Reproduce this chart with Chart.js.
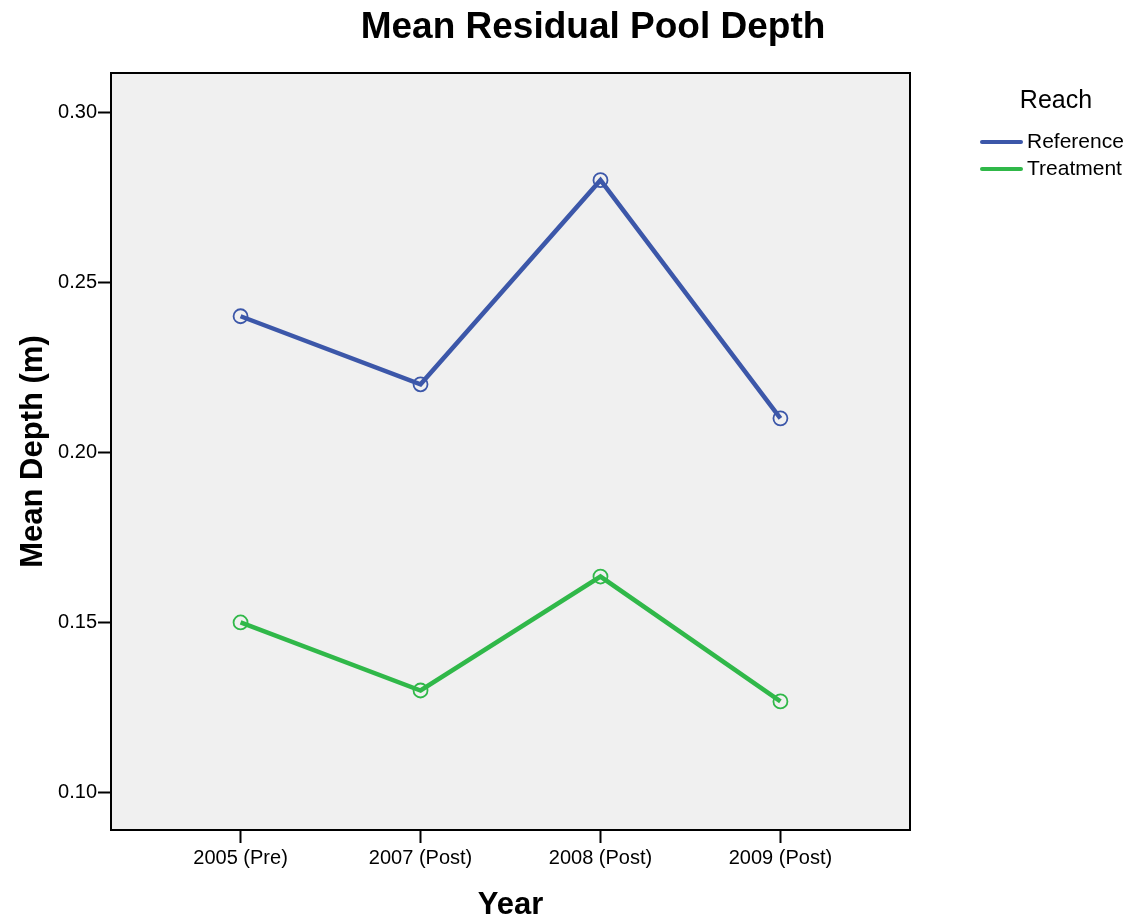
<!DOCTYPE html>
<html>
<head>
<meta charset="utf-8">
<script src="https://cdn.jsdelivr.net/npm/chart.js@4"></script>
<style>
  html, body { margin: 0; padding: 0; background: #fff; }
  #wrap { width: 1133px; height: 922px; }
</style>
</head>
<body>
<div id="wrap"><canvas id="graph" width="1133" height="922"></canvas></div>
<script>
// data
const years = ['2005 (Pre)', '2007 (Post)', '2008 (Post)', '2009 (Post)'];
const referenceDepth = [0.240, 0.220, 0.280, 0.210];
const treatmentDepth = [0.150, 0.130, 0.1635, 0.1268];
const yTicks = [0.10, 0.15, 0.20, 0.25, 0.30];

const FONT = '"Liberation Sans", Arial, sans-serif';
const blue = '#3c57a9';
const green = '#30b849';

const toPoints = (vals) => vals.map((v, i) => ({ x: i, y: v }));

// background + frame + title + legend
const decor = {
    id: 'decor',
    beforeDraw(chart) {
        const c = chart.ctx, a = chart.chartArea;
        c.save();
        c.fillStyle = '#f0f0f0';
        c.fillRect(a.left, a.top, a.right - a.left, a.bottom - a.top);
        c.restore();
    },
    afterDraw(chart) {
        const c = chart.ctx, a = chart.chartArea;
        c.save();
        c.strokeStyle = '#000';
        c.lineWidth = 2;
        c.strokeRect(a.left, a.top, a.right - a.left, a.bottom - a.top);

        c.fillStyle = '#000';
        c.textAlign = 'center';
        c.textBaseline = 'middle';
        c.font = 'bold 37px ' + FONT;
        c.fillText('Mean Residual Pool Depth', 593, 28);

        // legend
        c.font = '25px ' + FONT;
        c.fillText('Reach', 1056, 101);
        c.font = '21px ' + FONT;
        c.textAlign = 'left';
        chart.data.datasets.forEach((ds, i) => {
            const y = 142 + i * 27;
            c.strokeStyle = ds.borderColor;
            c.lineWidth = 4;
            c.lineCap = 'round';
            c.beginPath();
            c.moveTo(982, y);
            c.lineTo(1021, y);
            c.stroke();
            c.fillText(ds.label, 1027, y);
        });
        c.restore();
    }
};

const ctx = document.getElementById('graph').getContext('2d');
const chart = new Chart(ctx, {
    type: 'line',
    data: {
        datasets: [
            {
                label: 'Reference',
                data: toPoints(referenceDepth),
                borderColor: blue,
                borderWidth: 4.5,
                pointStyle: 'circle',
                pointRadius: 7,
                pointBorderWidth: 1.8,
                pointBorderColor: blue,
                pointBackgroundColor: 'rgba(0,0,0,0)',
            },
            {
                label: 'Treatment',
                data: toPoints(treatmentDepth),
                borderColor: green,
                borderWidth: 4.5,
                pointStyle: 'circle',
                pointRadius: 7,
                pointBorderWidth: 1.8,
                pointBorderColor: green,
                pointBackgroundColor: 'rgba(0,0,0,0)',
            },
        ]
    },
    options: {
        responsive: false,
        animation: false,
        layout: { padding: { top: 73, right: 223, left: 0, bottom: 0 } },
        plugins: {
            legend: { display: false },
            title: { display: false },
            tooltip: { enabled: false },
        },
        scales: {
            x: {
                type: 'linear',
                min: -0.72,
                max: 3.72,
                afterBuildTicks: (scale) => {
                    scale.ticks = years.map((_, i) => ({ value: i }));
                },
                afterFit: (scale) => { scale.height = 92; },
                grid: { drawOnChartArea: false, tickLength: 13, tickWidth: 2, tickColor: '#000' },
                border: { display: false },
                ticks: {
                    color: '#000',
                    font: { family: FONT, size: 20 },
                    padding: 3,
                    maxRotation: 0,
                    callback: (v) => years[v],
                },
                title: {
                    display: true,
                    text: 'Year',
                    color: '#000',
                    font: { family: FONT, size: 31, weight: 'bold' },
                    padding: { top: 0, bottom: -2 },
                },
            },
            y: {
                min: 0.089,
                max: 0.3115,
                afterBuildTicks: (scale) => {
                    scale.ticks = yTicks.map((v) => ({ value: v }));
                },
                afterFit: (scale) => { scale.width = 111; },
                grid: { drawOnChartArea: false, tickLength: 13, tickWidth: 2, tickColor: '#000' },
                border: { display: false },
                ticks: {
                    color: '#000',
                    font: { family: FONT, size: 20 },
                    padding: 1,
                    callback: (v) => v.toFixed(2),
                },
                title: {
                    display: true,
                    text: 'Mean Depth (m)',
                    color: '#000',
                    font: { family: FONT, size: 31, weight: 'bold' },
                    padding: { top: 15, bottom: 0 },
                },
            },
        },
    },
    plugins: [decor],
});
</script>
</body>
</html>
